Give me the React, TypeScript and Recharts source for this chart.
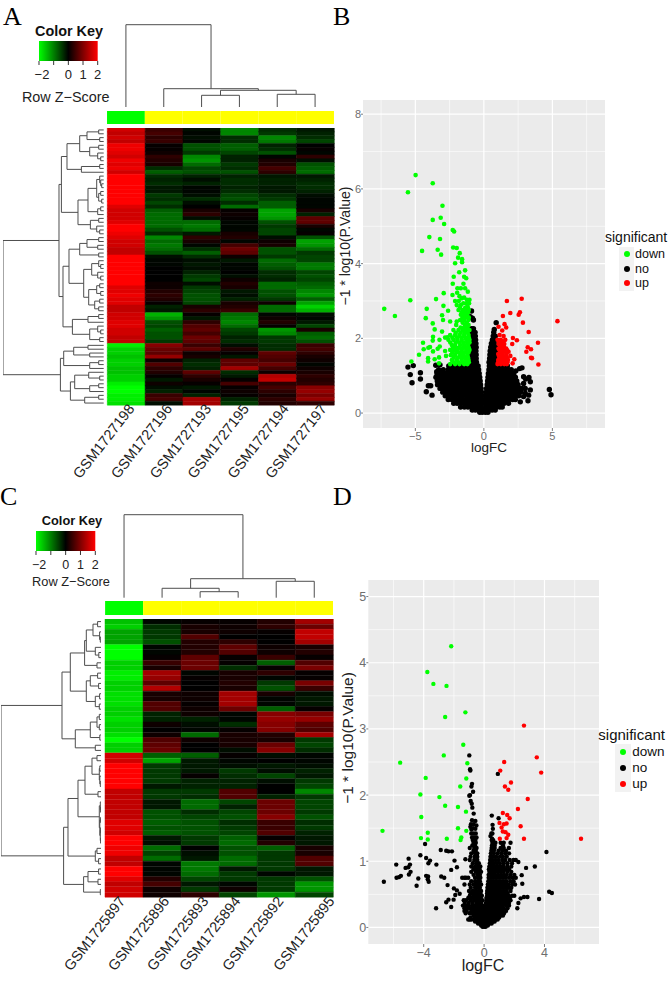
import React from 'react';
import { BarChart, Bar, Cell, XAxis, YAxis, LineChart, Line, ScatterChart, Scatter, CartesianGrid, Label } from 'recharts';

type TreeNode = number | [number, TreeNode, TreeNode];

const FONT = '"Liberation Sans", Arial, sans-serif';
const SERIF = '"Liberation Serif", serif';

// panel A heatmap
const samplesA = ['GSM1727198', 'GSM1727196', 'GSM1727193', 'GSM1727195', 'GSM1727194', 'GSM1727197'];
const firstColA = [1.7,1.6,1.7,1.6,1.9,1.9,1.8,1.7,1.9,1.8,1.9,1.7,2,2,2,2,2,2,2,2,1.8,1.7,1.7,1.7,1.8,2,2,1.9,1.8,1.7,1.7,1.6,1.6,2,2,2,2,2,2,2,2,1.8,1.8,1.9,1.8,1.8,1.6,1.6,1.7,1.7,1.8,1.8,1.7,1.7,1.6,1.6,-1.9,-1.7,-1.7,-1.6,-1.7,-1.7,-1.6,-1.6,-1.7,-1.7,-1.9,-2,-2,-1.9,-1.9,-1.8];
const restA = [
  [.6,-.2,-1.2,-.5,-.3],[.7,-.1,-1.2,-.6,-.4],[.5,-.2,-.5,-1.2,-.5],[.6,-.1,-.5,-1.1,-.7],[.1,-.8,-.9,-.4,0],[.1,-.8,-.9,-.5,.1],
  [.2,-.6,-.7,-.8,-.1],[.5,-1.2,-.4,-.1,.5],[.4,-1.3,-.4,.3,-.2],[.3,-1,-.6,.4,-.8],[-.5,-.7,-.5,.7,-.9],[-.9,-.8,-.8,.5,-1],
  [-.5,-.4,-.4,-.3,-.3],[-.4,-.2,-.5,-.4,-.4],[-.5,-.4,-.5,-.4,-.5],[-.3,-.1,-.4,-.3,-.5],[-.3,-.1,-.5,-.3,-.4],[-.6,-.2,-.7,-.5,-.2],
  [-.5,-.5,-.8,-.6,-.1],[-.7,-.2,-.5,-.9,-.1],[-.5,0,-1,-.9,-.1],[-.9,.3,.1,-1.4,.3],[-1,.5,.2,-1.4,-.4],[-1,-.2,.1,-1.3,.9],
  [-1,-1,-.1,-.8,.9],[-1,-1.1,-.1,-.6,.3],[-.8,-1,-.1,-.7,-.1],[-.5,-.3,.3,-.7,.1],[-1.2,.5,.4,-.2,-.8],[-1,.3,-.1,.2,-1.4],
  [-1.1,-.1,.7,.3,-1.3],[-1,-.5,1,-.8,-1],[-.8,-.9,.9,-.8,-.6],[-.2,-.5,.2,-.6,-.7],[-.1,-.2,-.3,-1,-.7],[-.1,-.3,-.1,-.9,-1.1],
  [0,-.2,-.1,-.8,-1.1],[0,-.4,0,-.5,-.7],[0,-.6,-.2,-.5,-.8],[0,-.7,.2,-.4,-.7],[.2,-.2,.4,-1,-.9],[.2,-.6,.3,-1,-1],
  [.4,-.7,-.3,-.8,-1.2],[.5,-.8,-.2,-.8,-1.3],[.4,-.8,-.4,-.6,-.9],[.1,-.7,.3,.2,-1.4],[-.4,.3,.4,-1,-1.7],[-.3,.5,.6,-1,-1.5],
  [-1.5,.1,-1,-.1,-.2],[-1.3,-.3,-1.1,.2,-.1],[-.8,.5,-1.2,.4,-.3],[-.7,.8,-1,.1,-.7],[-.9,.9,-.7,-1.3,.3],[-.8,.7,-.6,-1.2,-.9],
  [-.8,1,-.4,-.6,-1],[-.6,.9,-.5,-.6,-.8],[1.2,.6,-.2,-.5,.6],[1,.9,.4,-.5,.7],[.9,.2,.1,.9,.5],[1.3,.3,-.3,.8,.3],
  [.2,-.4,.9,.7,.2],[.8,-.5,.9,1,-.1],[.5,-.4,1.4,.7,.2],[.4,.9,-.5,.2,.3],[.1,.5,-.3,1.5,.5],[-.3,.3,.1,1.6,.4],
  [.2,.1,.7,.5,.5],[-.2,-.3,.1,.7,1.2],[-.4,-.1,.2,.5,1.3],[.6,-.4,.1,.3,1.1],[.7,1.4,-.4,.5,1.3],[-.2,1.4,-.6,.4,.5],
];
const colTreeA: TreeNode = [82.6, 0, [18.6, 1, [17, [12, 2, 3], [13, 4, 5]]]];
const rowTreeA: TreeNode = [100.7,
  [44.7,
    [42.3,
      [36.7, [24, [16.7, [5, 0, 1], [4, 2, 3]], [14, [5, 4, 5], [6, 6, [3, 7, 8]]]], [22.3, [4, 9, 10], 11]],
      [25.7,
        [15.7, [7, [4, 12, [3, 13, [2, 14, 15]]], [5, [3, 16, 17], [2, 18, 19]]], [6, [3, 20, 21], 22]],
        [13.3, [5, 23, 24], [7, 25, [4, 26, 27]]]]],
    [40.7,
      [34.7,
        [24, [16.7, [5, 28, 29], [6, 30, 31]], [5, 32, 33]],
        [20, [12, [5, 34, [3, 35, 36]], [6, 37, [3, 38, 39]]], [15, [7, [4, 40, 41], [3, 42, 43]], [9, [4, 44, 45], [5, 46, 47]]]]],
      [31.3, [15.7, [5, 48, 49], 50], [14, [6, 51, [3, 52, 53]], [4, 54, 55]]]]],
  [43.3,
    [40, [30, [15.7, 56, 57], [14, 58, 59]], [14, [5, 60, 61], 62]],
    [33.3, [29, [15, 63, [4, 64, 65]], [14, [5, 66, 67], 68]], [19, [5, 69, 70], 71]]]];

// panel C heatmap
const samplesC = ['GSM1725897', 'GSM1725896', 'GSM1725893', 'GSM1725894', 'GSM1725892', 'GSM1725895'];
const firstColC = [-1.6,-1.7,-1.4,-1.4,-1.4,-2,-2,-2,-1.7,-1.7,-1.9,-1.9,-1.7,-1.7,-1.8,-1.8,-1.8,-1.7,-1.7,-1.8,-1.7,-1.7,-1.8,-2,-1.7,-1.7,1.7,1.7,2,2,2,2,2,1.6,1.6,1.6,1.6,1.6,1.6,1.8,1.8,1.7,2,2,1.9,1.9,1.6,1.6,2,2,1.8,1.6,1.7,1.7];
const restC = [
  [-.1,.1,.1,.4,1.4],[-.5,.3,.2,.5,1],[-.6,.3,.2,.1,1.6],[-.6,.8,0,0,1.6],[-.8,.4,.5,0,1.4],[-.1,.4,.9,.2,.3],
  [-.1,.4,.8,.2,.4],[.1,.9,.1,.6,.1],[.6,1,.1,-.9,.8],[.3,1,-.5,.1,1.1],[1.4,-.1,.3,.5,.1],[1.3,.1,.3,-.1,.1],
  [.9,0,.4,-.6,1.1],[1.5,0,.3,-.8,.6],[.3,.2,1.4,.3,-.2],[.3,.2,1.4,-.1,-.3],[.8,.1,1.4,-.1,-.3],[.8,.2,1,-.9,.1],
  [-.4,.2,-.1,1.2,1.1],[-.4,-.4,-.1,1.3,1.3],[.2,-.2,-.5,1.2,.9],[0,-.1,.1,1.2,.8],[.2,-1,.3,.4,1.4],[.8,.2,.3,.3,-.6],
  [.9,0,.3,1,-.7],[1,0,-.2,1.2,-.5],[-.9,-.9,.1,-.2,-.1],[-1.4,-.3,-.1,0,-.1],[-.6,-.3,-.2,-.3,-.2],[-.6,-.3,-.6,-.2,-.4],
  [-.6,.1,-.5,-.7,-.3],[-.6,-.4,-.4,-.2,-.6],[-.3,-.4,-.4,0,-.7],[-.6,-.6,.8,0,-1.2],[-.6,-.5,.8,-.4,-.6],[-.3,-1,-.7,1,-.7],
  [-.3,-1,-.4,1,-.7],[-.8,-.5,-.7,1,-.6],[-.8,-.7,-.8,1.2,-.8],[-.9,-.8,-.5,.6,-.5],[-.8,-.8,-.6,.6,-.6],[-.9,-.8,-.7,.8,-.4],
  [-.3,-.6,-.9,.1,-.3],[-.2,-.6,-1,.4,-.3],[-1,0,-.8,-.9,.3],[-.7,-.2,-.8,-.6,.3],[-1,-.3,-1,-.6,.8],[-.1,-1.1,-1,-.6,.8],
  [-.1,-1.1,-.3,-.6,-.3],[-.1,-1,-.6,-.1,-.3],[.4,-.7,-.6,-.6,-.8],[.7,-.3,-.1,-.6,-1.3],[.2,-.6,.2,-.6,-1.3],[.2,.5,-.7,-1.3,-.7],
];
const colTreeC: TreeNode = [83, 0, [19, [9.4, 1, [6, 2, 3]], [16.4, 4, 5]]];
const rowTreeC: TreeNode = [100.3,
  [39.3,
    [31,
      [16.7, [15, [8.3, [3.7, 0, 1], [1.7, 2, [1, 3, 4]]], [6, 5, [2.5, 6, 7]]], [4.3, 8, 9]],
      [15, [11, [3.7, 10, 11], [2.7, 12, 13]], [6, [1.7, 14, 15], [2, 16, 17]]]],
    [26, [11, [4.3, [2, 18, 19], [2, 20, 21]], [1.5, 22, 23]], [6, 24, 25]]],
  [37.7,
    [33.3,
      [23.3,
        [16.3, [9.3, [4.3, 26, 27], [2, [1.5, 28, 29], [1.5, 30, [1, 31, 32]]]], [3.3, 33, 34]],
        [2, [1, 35, [.7, 36, 37]], [1.5, [.7, 38, 39], [1, [.7, 40, 41], [.7, 42, 43]]]]],
      [6, [4.3, 44, 45], [2.7, 46, 47]]],
    [17.7, [13.3, [2.7, 48, 49], [3.3, 50, 51]], [1, 52, 53]]]];

const sideColors = ['#00ff00', '#ffff00', '#ffff00', '#ffff00', '#ffff00', '#ffff00'];
const keyTicks = [-2, -1, 0, 1, 2];

// panel B volcano: [logFC, -log10 P], the *Rows lists are [-log10 P, logFC, logFC, ...]
const downB = [[-4.98,6.37],[-3.73,6.15],[-5.54,5.91],[-3.02,5.55],[-3.15,5.23],[-3.73,5.17],[-2.9,5.06],[-2.27,4.9],[-2.17,4.86],[-3.98,4.71],[-3.2,4.66],[-4.51,4.34],[-3.37,4.37],[-3.12,4.24],[-2.24,4.43],[-1.98,4.42],[-1.76,4.28],[-1.88,4.16],[-1.59,4.12],[-1.59,4.04],[-2.1,4.01],[-1.37,3.82],[-1.8,3.77],[-2.2,3.65],[-1.44,3.65],[-1.29,3.61],[-2.27,3.46],[-1.49,3.46],[-1.93,3.34],[-1.68,3.34],[-1.37,3.34],[-1.17,3.25],[-2.93,3.21],[-2.29,3.16],[-5.37,3.02],[-7.27,2.79],[-6.49,2.6],[-3.49,3.05],[-4.17,2.79],[-2.95,2.87],[-2.61,2.74],[-3.05,2.62],[-4.24,2.54],[-2.98,2.49],[-3.73,2.4],[-2.46,2.45],[-1.98,2.45],[-3.59,2.24],[-3.05,2.18],[-3.71,2.04],[-3.73,1.94],[-3.24,1.96],[-2.83,2.02],[-2.66,2.03],[-4.44,1.88],[-4.39,1.71],[-4.05,1.75],[-3.93,1.77],[-3.22,1.78],[-3.37,1.72],[-3.71,1.65],[-2.83,1.66],[-4.73,1.56],[-4.07,1.47],[-4.07,1.38],[-5.29,1.38],[-3.59,1.44],[-3.27,1.49],[-2.76,1.53],[-3.27,1.33]];
const downRowsB = [
  [3.22,-1.95],[3.13,-1.78],[3.09,-1.44],[3.07,-1.61],[3.03,-1.24,-1.05],[3,-2.1,-1.83],[2.94,-1.5,-1.25,-1.08],[2.89,-1.98,-1.68,-1.2],[2.82,-1.75,-1.36,-1.16],[2.76,-1.85,-1.54,-1.29,-1.1],[2.69,-1.62,-1.36,-1.15],[2.63,-1.68,-1.44,-1.24],[2.56,-1.56,-1.3,-1.1],
  [2.49,-1.73,-1.44,-1.12],[2.42,-1.55,-1.25],[2.36,-2.02,-1.37,-1.12],[2.29,-1.7,-1.45,-1.2],[2.22,-2.22,-1.85,-1.54,-1.29,-1.05],[2.15,-2.05,-1.7,-1.42,-1.18],[2.09,-2.46,-2.1,-1.78,-1.44,-1.12],[2.02,-2.3,-1.95,-1.65,-1.36,-1.1],
  [1.96,-2.59,-2.22,-1.93,-1.61,-1.29,-1.05],[1.89,-2.45,-2.05,-1.78,-1.5,-1.22,-1.05],[1.82,-2.34,-2.1,-1.73,-1.44,-1.15],[1.75,-2.25,-2,-1.8,-1.52,-1.3,-1.1],[1.69,-2.46,-2.17,-1.93,-1.61,-1.29,-1.05],[1.62,-2.3,-2,-1.8,-1.55,-1.35,-1.12],
  [1.55,-2.41,-2.1,-1.73,-1.49,-1.2],[1.48,-2.2,-1.9,-1.65,-1.4,-1.15],[1.42,-2.34,-1.98,-1.61,-1.29,-1.12],[1.36,-2.2,-1.85,-1.55,-1.35,-1.1],[1.31,-2.46,-2.1,-1.78,-1.44,-1.2],
];
const upB = [[1.68,3],[2.76,3.06],[1.93,2.68],[2.63,2.7],[2.54,2.63],[1.39,2.6],[5.37,2.46],[2.85,2.42],[1.51,2.38],[1.63,2.29],[1.07,2.31],[1.34,2.21],[3.27,2.17],[1.15,2.09],[1.44,2.06],[2.12,2.01],[2.41,1.95],[2.07,1.85],[3.95,1.88],[3.2,1.76],[3.44,1.71],[3.1,1.64],[3.44,1.48],[3.51,1.47],[3.98,1.3],[2.22,1.44],[2.1,1.33]];
const upRowsB = [[1.96,1,1.24,1.56],[1.9,1.1,1.4],[1.85,1.07,1.32,1.49],[1.79,1.2,1.45],[1.73,1.07,1.39,1.63],[1.68,1.15,1.3,1.55,1.7],[1.64,1.2,1.49,1.8],[1.58,1.05,1.35,1.65],[1.53,1.1,1.34,1.61,1.93],[1.47,1.15,1.4,1.55,1.7],[1.42,1.05,1.24,1.49,1.76],[1.36,1.05,1.2,1.35,1.55,1.72],[1.31,1,1.24,1.49,1.68]];
const noB = [[-5.54,1.23],[-5.15,1.27],[-5.37,1.03],[-4.63,1.08],[-4.63,.91],[-5.24,.81],[-4.2,.57],[-4.05,.73],[-3.88,.73],[-3.78,.48],[-3.51,1.28],[-3.2,1.29],[-3.44,1.11],[2.66,.3],[2.78,1.21],[2.61,1.19],[2.34,1.13],[2.9,.97],[3.05,.91],[3.29,.95],[3.39,.84],[2.9,.79],[2.78,.66],[3.02,.66],[3.39,.62],[3.27,.48],[3.22,.33],[4.78,.63],[4.9,.49],[3.02,.53],[2.9,.44],[-.9,2.73],[-1,2.58],[-.83,2.54],[-.76,2.49],[.9,2.42],[.76,2.24]];
const noRowsB = [
  [.02,-.3,-.12,.1,.3],
  [.08,-.85,-.62,-.38,-.15,.12,.36,.6,.83],
  [.16,-1.7,-1.42,-1.16,-.9,-.66,-.42,-.18,.16,.4,.66,.92,1.16,1.34],
  [.26,-2.2,-1.95,-1.7,-1.46,-1.22,-.96,-.72,-.46,-.22,-.06,.06,.22,.48,.72,.98,1.22,1.48,1.8],
  [.36,-2.6,-2.34,-2.08,-1.84,-1.58,-1.34,-1.08,-.84,-.58,-.34,-.1,.1,.34,.6,.84,1.08,1.34,1.6,1.84,2.1,2.3],
  [.46,-2.82,-2.56,-2.3,-2.06,-1.8,-1.56,-1.3,-1.06,-.82,-.58,-.36,-.14,.14,.36,.6,.84,1.08,1.32,1.56,1.82,2.06,2.3,2.55],
  [.56,-3,-2.74,-2.5,-2.24,-2,-1.76,-1.5,-1.26,-1,-.76,-.52,-.3,-.17,.17,.32,.56,.8,1.04,1.28,1.52,1.76,2,2.24,2.48,2.68],
  [.66,-3.2,-2.9,-2.66,-2.4,-2.16,-1.9,-1.66,-1.4,-1.16,-.92,-.68,-.44,-.2,.2,.44,.68,.92,1.16,1.4,1.64,1.88,2.12,2.36,2.58],
  [.76,-3.38,-3.1,-2.8,-2.56,-2.3,-2.06,-1.8,-1.56,-1.3,-1.06,-.82,-.58,-.34,-.24,.24,.46,.7,.94,1.18,1.42,1.66,1.9,2.14,2.38,2.5],
  [.86,-3.4,-3.14,-2.9,-2.64,-2.4,-2.14,-1.9,-1.64,-1.4,-1.16,-.92,-.68,-.44,-.27,.27,.5,.74,.98,1.22,1.46,1.7,1.94,2.18,2.4],
  [.96,-3.5,-3.2,-2.96,-2.7,-2.46,-2.2,-1.96,-1.7,-1.46,-1.22,-.98,-.74,-.5,-.3,.3,.54,.78,1.02,1.26,1.5,1.74,1.98,2.2,2.3],
  [1.06,-3.42,-3.1,-2.8,-2.52,-2.26,-2,-1.76,-1.5,-1.26,-1.02,-.78,-.54,-.34,.33,.56,.8,1.04,1.28,1.52,1.76,2,2.18],
  [1.16,-3.3,-2.96,-2.6,-2.34,-2.1,-1.84,-1.6,-1.36,-1.12,-.88,-.64,-.38,.37,.6,.84,1.08,1.32,1.56,1.8,2],
  [1.26,-2.56,-2.3,-2.04,-1.8,-1.56,-1.32,-1.08,-.84,-.6,-.42,.4,.62,.86,1.1,1.34,1.56,1.72],
  [1.36,-.98,-.76,-.54,.38,.6,.82],[1.46,-.96,-.76,-.56,.42,.62,.84],[1.56,-.98,-.78,-.56,.44,.64,.86],[1.66,-.96,-.76,-.58,.46,.68,.88],
  [1.76,-.94,-.74,-.56,.5,.72,.92],[1.86,-.92,-.72,-.58,.55,.76],[1.96,-.9,-.72,-.6,.62,.82],[2.06,-.9,-.74,-.62,.68,.84],[2.16,-.92,-.78,-.64,.72],[2.26,-.9,-.76],
];

// panel D volcano
const downD = [[-2.18,4.25],[-3.76,3.86],[-3.36,3.68],[-2.49,3.65],[-1.24,3.25],[-2.58,3.18],[-1.38,2.76],[-2.67,2.6],[-5.56,2.49],[-1.11,2.48],[-3.87,2.26],[-1.18,2.25],[-1.58,2.13],[-4.22,2.01],[-2.96,1.97],[-2.58,1.84],[-1.73,1.82],[-1.2,1.75],[-4.16,1.67],[-1.73,1.5],[-1.18,1.46],[-6.73,1.46],[-3.73,1.43],[-4.18,1.35],[-3.73,1.33],[-2.47,1.34],[-1.51,1.36],[-1.56,1.32]];
const upD = [[2.64,3.05],[3.49,2.57],[1.33,2.5],[3.78,2.34],[1.07,2.37],[1.78,2.19],[1.38,2.13],[1.6,2.08],[2.89,1.94],[2.24,1.79],[1.24,1.73],[1.53,1.7],[1.69,1.65],[1.02,1.58],[1.49,1.57],[1.31,1.56],[2.42,1.53],[1.16,1.51],[1.24,1.45],[1.42,1.44],[1.6,1.4],[1.04,1.34],[1.49,1.35],[2.64,1.34],[6.42,1.34]];
const noD = [[-.98,2.6],[-.93,2.39],[-.91,2.37],[.91,2.32],[-.8,2.17],[-.84,2.13],[-.73,2.05],[-.93,2],[-.98,1.99],[-.89,1.91],[-.82,1.87],[-.78,1.81],[-.69,1.72],[-.8,1.62],[-.58,1.61],[-.87,1.56],[-.69,1.56],[-.51,1.54],[-.91,1.52],[-.73,1.5],[-.58,1.49],[-.84,1.48],[-3.91,1.26],[-2.87,1.17],[-2.51,1.16],[-2.36,1.15],[-2.13,1.15],[-4.22,1.09],[-5,1.04],[-3.84,1.05],[-3.58,1.01],[-3.69,.97],[-5.82,.95],[-4.91,.95],[-3.16,.95],[-5.02,.91],[-5.2,.9],[-1.96,1.01],[-1.8,.91],[-2.18,.87],[-1.24,1.03],[-4.87,.84],[-4.98,.8],[-5.51,.78],[-5.8,.75],[-5.64,.76],[-4.36,.74],[-3.84,.78],[-3.71,.77],[-3.73,.73],[-3.67,.69],[-2.84,.77],[-2.64,.75],[-6.64,.69],[-4.47,.63],[-2.42,.64],[-2,.59],[-1.8,.56],[-1.62,.51],[-1.91,.49],[-2.51,.38],[-2.36,.42],[-2.02,.42],[-3.18,.29],[-2.18,.31],[4.13,1.14],[3.36,.92],[2.78,.9],[2.27,.99],[2.49,.79],[2.53,.66],[3.64,.43],[4.31,.54],[4.49,.52],[2.87,.46],[2.64,.46],[2.42,.44],[2.27,.37],[2.2,.29],[.51,1.69],[.96,1.65],[.56,1.55],[.58,1.49],[.42,1.38],[.53,1.34]];
const noRowsD = [
  [.01,-.1,0,.1],[.03,-.2,-.05,.1,.25],[.06,-.4,-.25,-.12,.05,.2,.35,.5],
  [.09,-.6,-.45,-.3,-.15,0,.12,.28,.42,.58,.7],
  [.12,-1.05,-.95,-.85,-.65,-.5,-.35,-.2,-.08,.05,.15,.3,.45,.6,.75,.9],
  [.15,-.9,-.62,-.48,-.32,-.18,-.05,.08,.22,.38,.52,.68,.85,1],
  [.18,-.7,-.55,-.4,-.28,-.15,-.05,.1,.2,.35,.5,.65,.8,.95,1.1,1.25],
  [.215,-1.22,-.95,-.75,-.58,-.42,-.25,-.12,-.02,.08,.15,.28,.42,.58,.72,.88,1.02,1.18,1.32],
  [.25,-1.3,-1.15,-.85,-.65,-.5,-.35,-.2,-.08,.12,.25,.4,.55,.7,.85,1,1.2,1.45],
  [.29,-1.3,-1.12,-.92,-.7,-.5,-.32,-.18,-.05,.1,.18,.32,.48,.62,.78,.92,1.1,1.3,1.55],
  [.33,-1.4,-1.2,-1.05,-.8,-.6,-.4,-.25,-.1,.12,.25,.4,.55,.7,.85,1,1.2,1.45,1.65],
  [.37,-1.28,-1.02,-.78,-.52,-.35,-.18,.12,.22,.38,.52,.68,.82,.98,1.12,1.28,1.45,1.65],
  [.41,-1.35,-1.2,-.9,-.65,-.45,-.25,-.12,.15,.3,.45,.6,.75,.9,1.05,1.2,1.35,1.55,1.75],
  [.445,-1.05,-.82,-.6,-.4,-.22,.15,.25,.38,.52,.68,.82,.98,1.12,1.3,1.5,1.7],
  [.48,-.95,-.7,-.5,-.3,-.15,.2,.3,.45,.6,.75,.9,1.05,1.2,1.4,1.6,1.85,2],
  [.515,-.88,-.62,-.42,-.25,.2,.28,.38,.52,.68,.82,.98,1.15,1.35,1.55],
  [.55,-1,-.75,-.55,-.35,-.2,.2,.35,.5,.65,.8,.95,1.1,1.3,1.5,1.75],
  [.6,-.88,-.6,-.45,-.28,.22,.3,.42,.58,.72,.88,1.02,1.2,1.4,1.6,1.8],
  [.65,-1.3,-.95,-.7,-.5,-.35,-.2,.25,.4,.55,.7,.85,1,1.2,1.4,1.6,1.85,2.05],
  [.7,-.85,-.6,-.42,-.28,.28,.35,.5,.65,.78,.92,1.1,1.3,1.5,1.75,1.95],
  [.75,-1.45,-1.3,-1.2,-1.05,-.6,-.4,-.25,.3,.45,.6,.8,1,1.2,1.4,1.65,1.9,2.1],
  [.795,-.7,-.45,-.28,.3,.42,.55,.7,.9,1.1,1.3,1.5,1.75,2],
  [.84,-.85,-.55,-.35,-.2,.35,.5,.7,.9,1.1,1.3,1.55,1.8],
  [.88,-.7,-.48,-.3,.32,.45,.6,.8,1,1.2,1.4,1.65],
  [.92,-.85,-.6,-.4,-.25,.35,.5,.7,.9,1.1,1.3,1.55,1.8],
  [.97,-.75,-.52,-.35,.38,.5,.65,.85,1.05,1.3,1.55,1.85],
  [1.02,-.95,-.65,-.45,.4,.55,.75,.95,1.2,1.4,1.7,1.95,2.1],
  [1.07,-.9,-.62,-.45,.42,.6,.8,1.05,1.25,1.5],
  [1.12,-.85,-.6,-.45,.45,.65,.9,1.15,1.4,1.65],
  [1.16,-.7,-.55,.48,.65,.95,1.2,1.45],
  [1.2,-.65,-.5,-.95,.5,.7,1.09,1.3,1.64],
  [1.24,-.78,-.6,.52,.7,1.25],
  [1.28,-.7,-.55,.55,.75,1.1,1.3,1.75],
  [1.32,-.75,-.58,.5,.6],
  [1.36,-.8,-.65,-.5],
  [1.42,-.85,-.7,-.55,.48,.55],
];

const legendKeys = ['down', 'no', 'up'];
const legendColors = ['#00ff00', '#000000', '#ff0000'];

const zColor = (z: number) => {
  const v = Math.round(Math.pow(Math.min(1, Math.abs(z) / 2), 1.25) * 255);
  return z >= 0 ? `rgb(${v},0,0)` : `rgb(0,${v},0)`;
};

// flatten a dendrogram to polyline points, null breaks the line
function treePoints(root: TreeNode) {
  const pts: { pos: number | null; h: number | null }[] = [];
  const walk = (n: TreeNode): { pos: number; h: number } => {
    if (typeof n === 'number') return { pos: n + 0.5, h: 0 };
    const l = walk(n[1]);
    const r = walk(n[2]);
    pts.push({ pos: l.pos, h: l.h }, { pos: l.pos, h: n[0] }, { pos: r.pos, h: n[0] }, { pos: r.pos, h: r.h }, { pos: null, h: null });
    return { pos: (l.pos + r.pos) / 2, h: n[0] };
  };
  walk(root);
  return pts;
}

const toPoints = (pairs: number[][], rows: number[][] = []) => [
  ...pairs.map(([x, y]) => ({ x, y })),
  ...rows.flatMap(([y, ...xs]) => xs.map(x => ({ x, y }))),
];

const box = (left: number, top: number): React.CSSProperties => ({ position: 'absolute', left, top });

function RowTree({ tree, left, top, width, height, rows, maxH }: any) {
  return (
    <div style={box(left, top)}>
      <LineChart width={width} height={height} data={treePoints(tree)} margin={{ top: 0, right: 0, bottom: 0, left: 0 }}>
        <XAxis type="number" dataKey="h" domain={[0, maxH]} reversed hide />
        <YAxis type="number" domain={[0, rows]} reversed hide />
        <Line dataKey="pos" stroke="#4d4d4d" strokeWidth={1} dot={false} isAnimationActive={false} connectNulls={false} />
      </LineChart>
    </div>
  );
}

function ColTree({ tree, left, top, width, height, maxH }: any) {
  return (
    <div style={box(left, top)}>
      <LineChart width={width} height={height} data={treePoints(tree)} margin={{ top: 0, right: 0, bottom: 0, left: 0 }}>
        <XAxis type="number" dataKey="pos" domain={[0, 6]} hide />
        <YAxis type="number" domain={[0, maxH]} hide />
        <Line dataKey="h" stroke="#4d4d4d" strokeWidth={1} dot={false} isAnimationActive={false} connectNulls={false} />
      </LineChart>
    </div>
  );
}

const columnKeys = ['s0', 's1', 's2', 's3', 's4', 's5'];

function Heat({ first, rest, samples, shifts, left, top, width, height }: any) {
  const rows = first.map((z: number, i: number) => ({ row: i, s0: 1, s1: 1, s2: 1, s3: 1, s4: 1, s5: 1, zs: [z, ...rest[i]] }));
  const labelTick = ({ x, y, payload }: any) => {
    const c = Math.floor(payload.value);
    return (
      <text transform={`translate(${x + shifts[c]},${y - 4}) rotate(-52)`} textAnchor="end" fontSize={14.5} fontFamily={FONT} fill="#222">
        {samples[c]}
      </text>
    );
  };
  return (
    <div style={box(0, top)}>
      <BarChart width={345} height={height + 90} layout="vertical" data={rows} barCategoryGap={0}
        margin={{ top: 0, bottom: 0, left, right: 345 - left - width }}>
        <XAxis type="number" domain={[0, 6]} ticks={[0.5, 1.5, 2.5, 3.5, 4.5, 5.5]} interval={0} height={90} axisLine={false} tickLine={false} tick={labelTick} />
        <YAxis type="category" dataKey="row" hide />
        {columnKeys.map((k, c) => (
          <Bar key={k} dataKey={k} stackId="a" isAnimationActive={false}>
            {rows.map((r: any) => <Cell key={r.row} fill={zColor(r.zs[c])} stroke={zColor(r.zs[c])} strokeWidth={0.5} />)}
          </Bar>
        ))}
      </BarChart>
    </div>
  );
}

function SideBar({ left, top, width, height }: any) {
  return (
    <div style={box(left, top)}>
      <BarChart width={width} height={height} layout="vertical" data={[{ row: 'side', s0: 1, s1: 1, s2: 1, s3: 1, s4: 1, s5: 1 }]} barCategoryGap={0}
        margin={{ top: 0, bottom: 0, left: 0, right: 0 }}>
        <XAxis type="number" domain={[0, 6]} hide />
        <YAxis type="category" dataKey="row" hide />
        {columnKeys.map((k, c) => <Bar key={k} dataKey={k} stackId="a" fill={sideColors[c]} isAnimationActive={false} />)}
      </BarChart>
    </div>
  );
}

function ColorKey({ id, left, top, width, size, titleSize, titleX, titleY, scoreX, scoreY, minusShift }: any) {
  const pad = 18;
  const tick = ({ x, y, payload }: any) => payload.value === -1 ? <g /> : (
    <text x={payload.value === -2 ? x + minusShift : x} y={y + 12} textAnchor="middle" fontSize={size} fontFamily={FONT} fill="#222">
      {payload.value === -2 ? '\u22122' : payload.value}
    </text>
  );
  return (
    <>
      <div style={{ ...box(titleX - 60, titleY - 10), width: 120, textAlign: 'center', fontFamily: FONT, fontWeight: 'bold', fontSize: titleSize, lineHeight: '20px', color: '#111' }}>Color Key</div>
      <div style={box(left - pad, top)}>
        <BarChart width={width + 2 * pad} height={42} layout="vertical" data={[{ row: 'key', range: [-2, 2] }]} barCategoryGap={0}
          margin={{ top: 0, bottom: 0, left: pad, right: pad }}>
          <defs>
            <linearGradient id={id} x1="0" y1="0" x2="1" y2="0">
              <stop offset="0" stopColor="#00ff00" />
              <stop offset="0.5" stopColor="#000000" />
              <stop offset="1" stopColor="#ff0000" />
            </linearGradient>
          </defs>
          <XAxis type="number" domain={[-2, 2]} ticks={keyTicks} interval={0} height={22} axisLine={false} tickSize={4} tick={tick} stroke="#333" />
          <YAxis type="category" dataKey="row" hide />
          <Bar dataKey="range" fill={`url(#${id})`} isAnimationActive={false} />
        </BarChart>
      </div>
      <div style={{ ...box(scoreX - 70, scoreY - 10), width: 140, textAlign: 'center', fontFamily: FONT, fontSize: titleSize, lineHeight: '20px', color: '#222' }}>Row Z{'\u2212'}Score</div>
    </>
  );
}

function Volcano({ left, top, width, height, axisWidth, xDomain, yDomain, xTicks, yTicks, xMinor, yMinor, no, down, up, r, rNo, tickSize, xLabel, yLabel }: any) {
  const tickStyle = { fontSize: tickSize, fontFamily: FONT, fill: '#6e6e6e' };
  const dot = (fill: string, radius: number) => (p: any) => <circle cx={p.cx} cy={p.cy} r={radius} fill={fill} />;
  return (
    <div style={box(left, top)}>
      <ScatterChart width={width} height={height} margin={{ top: 0, right: 0, bottom: 0, left: 0 }}>
        <CartesianGrid fill="#ebebeb" stroke="#ffffff" strokeWidth={0.6} horizontalValues={yMinor} verticalValues={xMinor} />
        <CartesianGrid stroke="#ffffff" strokeWidth={1.2} horizontalValues={yTicks} verticalValues={xTicks} />
        <XAxis type="number" dataKey="x" domain={xDomain} ticks={xTicks} interval={0} tickFormatter={(v: number) => (v < 0 ? `\u2212${-v}` : `${v}`)}
          axisLine={false} tickSize={3} tickMargin={1} stroke="#7f7f7f" tick={tickStyle} height={36}>
          <Label content={() => <text x={xLabel.x} y={xLabel.y} textAnchor="middle" fontSize={xLabel.size} fontFamily={FONT} fill="#222">logFC</text>} />
        </XAxis>
        <YAxis type="number" dataKey="y" domain={yDomain} ticks={yTicks} interval={0} axisLine={false} tickSize={2} tickMargin={0} stroke="#7f7f7f" tick={tickStyle} width={axisWidth}>
          <Label content={() => <text transform={`translate(${yLabel.x},${yLabel.y}) rotate(-90)`} textAnchor="middle" fontSize={yLabel.size} fontFamily={FONT} fill="#222">{'\u22121 * log10(P.Value)'}</text>} />
        </YAxis>
        <Scatter data={no} shape={dot('#000000', rNo)} isAnimationActive={false} />
        <Scatter data={down} shape={dot('#00ff00', r)} isAnimationActive={false} />
        <Scatter data={up} shape={dot('#ff0000', r)} isAnimationActive={false} />
      </ScatterChart>
    </div>
  );
}

function KeyLegend({ titleX, titleY, titleSize, boxX, boxY, boxSize, labelX, labelSize }: any) {
  return (
    <div style={{ fontFamily: FONT, color: '#111' }}>
      <div style={{ ...box(titleX, titleY - 10), fontSize: titleSize, lineHeight: '20px' }}>significant</div>
      {legendKeys.map((k, i) => (
        <React.Fragment key={k}>
          <div style={{ ...box(boxX, boxY + i * boxSize), width: boxSize, height: boxSize, background: '#f2f2f2', display: 'flex', alignItems: 'center', justifyContent: 'center' }}>
            <div style={{ width: 6, height: 6, borderRadius: 3, background: legendColors[i] }} />
          </div>
          <div style={{ ...box(labelX, boxY + i * boxSize), fontSize: labelSize, lineHeight: `${boxSize}px` }}>{k}</div>
        </React.Fragment>
      ))}
    </div>
  );
}

const panelLetter = (letter: string, left: number, top: number) => (
  <div style={{ ...box(left, top), fontFamily: SERIF, fontSize: 26, lineHeight: '26px', color: '#000' }}>{letter}</div>
);

export default function App() {
  return (
    <div style={{ ...box(0, 0), width: 669, height: 984, background: '#fff', overflow: 'hidden' }}>
      {panelLetter('A', 3, 4)}
      {panelLetter('B', 333, 4)}
      {panelLetter('C', 0, 484)}
      {panelLetter('D', 333, 484)}

      <ColorKey id="keyA" left={39} top={41} width={58.7} size={13} titleSize={14.4} titleX={69} titleY={30.5} scoreX={65.7} scoreY={97} minusShift={3} />
      <ColTree tree={colTreeA} left={107.3} top={20} width={227} height={87.3} maxH={87.3} />
      <SideBar left={107.3} top={110.7} width={227} height={13.3} />
      <RowTree tree={rowTreeA} left={3.3} top={128} width={100.7} height={277} rows={firstColA.length} maxH={100.7} />
      <Heat first={firstColA} rest={restA} samples={samplesA} shifts={[9, 9, 10, 10, 12, 12]} left={107.3} top={128} width={227} height={277} />

      <ColorKey id="keyC" left={36} top={531.3} width={59.3} size={12.5} titleSize={12.8} titleX={72} titleY={521} scoreX={71} scoreY={582.3} minusShift={3} />
      <ColTree tree={colTreeC} left={105} top={510} width={228.3} height={87.7} maxH={87.7} />
      <SideBar left={105} top={601} width={228.3} height={13.7} />
      <RowTree tree={rowTreeC} left={0.7} top={619} width={100.3} height={278.3} rows={firstColC.length} maxH={100.3} />
      <Heat first={firstColC} rest={restC} samples={samplesC} shifts={[2, 8, 9, 3, 8, 21]} left={105} top={619} width={228.3} height={278.3} />

      <Volcano left={335} top={100} width={270} height={364} axisWidth={28}
        xDomain={[-8.82, 8.84]} yDomain={[-0.4, 8.38]} xTicks={[-5, 0, 5]} yTicks={[0, 2, 4, 6, 8]} xMinor={[-7.5, -2.5, 2.5, 7.5]} yMinor={[1, 3, 5, 7]}
        no={toPoints(noB, noRowsB)} down={toPoints(downB, downRowsB)} up={toPoints(upB, upRowsB)} r={2.3} rNo={2.7} tickSize={11}
        xLabel={{ x: 154, y: 352, size: 13.5 }} yLabel={{ x: 15, y: 146, size: 14 }} />
      <KeyLegend titleX={605} titleY={237} titleSize={14} boxX={619.3} boxY={247} boxSize={14.6} labelX={635} labelSize={12.5} />

      <Volcano left={335} top={580} width={264} height={400} axisWidth={33.3}
        xDomain={[-7.67, 7.61]} yDomain={[-0.25, 5.25]} xTicks={[-4, 0, 4]} yTicks={[0, 1, 2, 3, 4, 5]} xMinor={[-6, -2, 2, 6]} yMinor={[0.5, 1.5, 2.5, 3.5, 4.5]}
        no={toPoints(noD, noRowsD)} down={toPoints(downD)} up={toPoints(upD)} r={2.2} rNo={2.2} tickSize={12.5}
        xLabel={{ x: 148, y: 391, size: 16 }} yLabel={{ x: 18, y: 158, size: 15.5 }} />
      <KeyLegend titleX={598.3} titleY={735} titleSize={15} boxX={615} boxY={744} boxSize={16} labelX={632.3} labelSize={13.5} />
    </div>
  );
}
